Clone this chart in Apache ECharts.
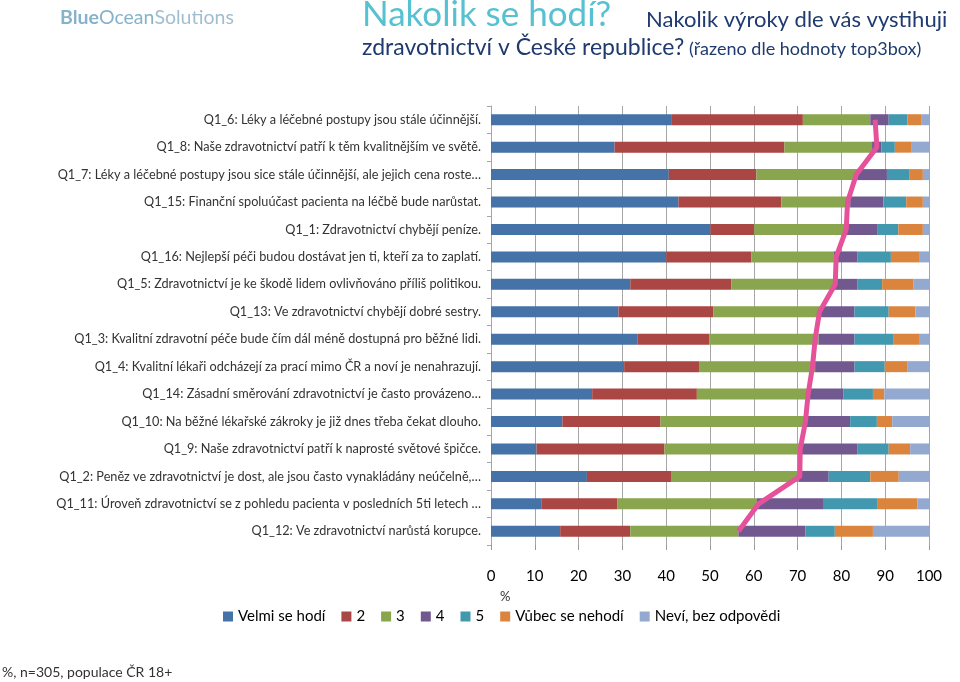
<!DOCTYPE html>
<html><head><meta charset="utf-8">
<script src="https://cdn.jsdelivr.net/npm/echarts@6/dist/echarts.min.js"></script>
<style>html,body{margin:0;padding:0;background:#fff}#c{width:960px;height:682px}</style>
</head><body><div id="c"></div>
<script>
const categories = [
  "Q1_6: Léky a léčebné postupy jsou stále účinnější.",
  "Q1_8: Naše zdravotnictví patří k těm kvalitnějším ve světě.",
  "Q1_7: Léky a léčebné postupy jsou sice stále účinnější, ale jejich cena roste…",
  "Q1_15: Finanční spoluúčast pacienta na léčbě bude narůstat.",
  "Q1_1: Zdravotnictví chybějí peníze.",
  "Q1_16: Nejlepší péči budou dostávat jen ti, kteří za to zaplatí.",
  "Q1_5: Zdravotnictví je ke škodě lidem ovlivňováno příliš politikou.",
  "Q1_13: Ve zdravotnictví chybějí dobré sestry.",
  "Q1_3: Kvalitní zdravotní péče bude čím dál méně dostupná pro běžné lidi.",
  "Q1_4: Kvalitní lékaři odcházejí za prací mimo ČR a noví je nenahrazují.",
  "Q1_14: Zásadní směrování zdravotnictví je často provázeno…",
  "Q1_10: Na běžné lékařské zákroky je již dnes třeba čekat dlouho.",
  "Q1_9: Naše zdravotnictví patří k naprosté světové špičce.",
  "Q1_2: Peněz ve zdravotnictví je dost, ale jsou často vynakládány neúčelně,…",
  "Q1_11: Úroveň zdravotnictví se z pohledu pacienta v posledních 5ti letech …",
  "Q1_12: Ve zdravotnictví narůstá korupce."
];
const seriesNames = ["Velmi se hodí","2","3","4","5","Vůbec se nehodí","Neví, bez odpovědi"];
const velmi = [41.3,28.2,40.6,42.8,50.1,40.0,31.8,29.1,33.4,30.4,23.1,16.3,10.4,21.9,11.6,15.8];
const s2    = [29.9,38.8,20.0,23.5,10.0,19.4,23.1,21.7,16.5,17.1,23.9,22.4,29.2,19.2,17.2,16.0];
const s3    = [15.4,20.0,23.0,15.7,20.8,18.8,23.3,24.5,24.9,26.5,25.5,33.3,31.0,29.1,31.9,24.7];
const s4    = [4.2,2.1,6.8,7.6,7.4,5.4,5.4,7.7,8.2,9.0,7.9,10.0,13.0,6.9,15.1,15.3];
const s5    = [4.3,3.1,5.2,5.2,4.7,7.7,5.7,7.8,8.8,6.9,6.8,6.1,7.2,9.5,12.5,6.7];
const vubec = [3.1,3.7,3.0,3.8,5.6,6.6,7.2,6.1,6.1,5.1,2.6,3.5,4.9,6.5,9.0,8.7];
const nevi  = [1.8,4.1,1.4,1.4,1.4,2.1,3.5,3.1,2.1,5.0,10.2,8.4,4.3,6.9,2.7,12.8];
const top3box = [87.7,88.1,83.4,81.4,81.1,78.8,78.6,75.0,74.0,73.4,72.4,71.8,70.6,70.5,61.1,56.5];
const xTicks = [0,10,20,30,40,50,60,70,80,90,100];

const colors = ["#4572A7","#AA4643","#89A54E","#71588F","#4198AF","#DB843D","#93A9CF"];
const seriesData = [velmi,s2,s3,s4,s5,vubec,nevi];
const FONT = "Lato, 'Open Sans', sans-serif";

const series = seriesNames.map((n,i)=>({
  name:n, type:'bar', stack:'all', data:seriesData[i], barWidth:11,
  itemStyle:{color:colors[i]}, emphasis:{disabled:true}
}));
series.push({
  name:'top3box', type:'line', data:top3box, symbol:'none', smooth:false,
  lineStyle:{color:'#E5529A', width:5}, z:5
});

const chart = echarts.init(document.getElementById('c'), null, {renderer:'canvas'});
chart.setOption({
  animation:false,
  textStyle:{fontFamily:FONT},
  grid:{left:491, right:31, top:106, bottom:137, containLabel:false},
  xAxis:{type:'value', min:0, max:100, interval:10,
    axisLine:{show:false},
    axisTick:{show:true, length:5, lineStyle:{color:'#999'}},
    splitLine:{show:true, lineStyle:{color:'#A6A6A6', width:1}},
    axisLabel:{fontSize:15, color:'#000', margin:24, fontFamily:FONT,
      formatter:v=>xTicks.includes(v)?String(v):''}
  },
  yAxis:{type:'category', data:categories, inverse:true,
    axisLine:{show:true, lineStyle:{color:'#A6A6A6'}},
    axisTick:{show:true, length:4, lineStyle:{color:'#A6A6A6'}},
    axisLabel:{fontSize:12.7, color:'#333', margin:10, fontFamily:FONT}
  },
  legend:{data:seriesNames, left:218, top:604, icon:'rect', itemWidth:10, itemHeight:10,
    itemGap:16, textStyle:{fontSize:15, color:'#000', fontFamily:FONT}},
  graphic:[
    {type:'text', left:60, top:8, style:{text:'{a|Blue}{b|Ocean}{c|Solutions}',
      rich:{a:{fontSize:19.5, fontWeight:'bold', fill:'#86B3CA', fontFamily:FONT},
            b:{fontSize:19.5, fontWeight:'normal', fill:'#86B3CA', fontFamily:FONT},
            c:{fontSize:19.5, fontWeight:'normal', fill:'#A0BECE', fontFamily:FONT}}}},
    {type:'text', left:362, top:-3, style:{text:'Nakolik se hodí?', fontSize:35, fill:'#56C1D0', fontFamily:FONT}},
    {type:'text', left:646, top:9, style:{text:'Nakolik výroky dle vás vystihuji', fontSize:22, fill:'#1F3A6E', fontFamily:FONT}},
    {type:'text', left:362, top:36.5, style:{text:'zdravotnictví v České republice?', fontSize:23, fill:'#1F3A6E', fontFamily:FONT}},
    {type:'text', left:689, top:40.5, style:{text:'(řazeno dle hodnoty top3box)', fontSize:18, fill:'#1F3A6E', fontFamily:FONT}},
    {type:'text', left:500, top:590, style:{text:'%', fontSize:13, fill:'#333', fontFamily:FONT}},
    {type:'text', left:2, top:665, style:{text:'%, n=305, populace ČR 18+', fontSize:14, fill:'#333', fontFamily:FONT}}
  ],
  series:series
});
</script></body></html>
